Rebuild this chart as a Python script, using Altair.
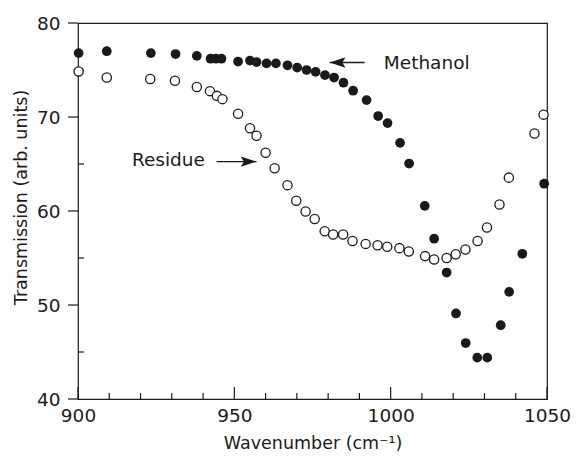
import altair as alt
import pandas as pd

# ---------------- data ----------------
wn_methanol = [900.2, 909.2, 923.3, 931.2, 938.0, 942.4, 944.1, 945.9, 951.2, 955.0,
               957.1, 960.3, 963.3, 967.0, 970.1, 973.1, 976.0, 979.0, 981.9, 984.9,
               988.0, 992.3, 996.0, 999.0, 1003.0, 1005.9, 1010.9, 1013.9, 1017.9, 1020.9,
               1024.0, 1027.7, 1030.9, 1035.2, 1037.9, 1042.1, 1049.1]
tr_methanol = [76.8, 77.0, 76.8, 76.7, 76.5, 76.2, 76.2, 76.2, 75.9, 76.0,
               75.85, 75.7, 75.7, 75.5, 75.25, 75.0, 74.8, 74.45, 74.2, 73.65,
               72.8, 71.8, 70.1, 69.35, 67.25, 65.05, 60.55, 57.05, 53.45, 49.1,
               45.95, 44.4, 44.4, 47.85, 51.4, 55.45, 62.9]

wn_residue = [900.2, 909.2, 923.1, 931.0, 938.0, 942.2, 944.4, 946.2, 951.2, 955.0,
              957.1, 960.0, 962.9, 967.0, 969.8, 972.8, 975.7, 978.9, 981.6, 984.8,
              987.8, 992.0, 995.8, 998.9, 1002.8, 1005.8, 1011.0, 1013.9, 1017.9, 1020.8,
              1023.9, 1027.8, 1030.8, 1034.8, 1037.8, 1046.0, 1048.9]
tr_residue = [74.85, 74.2, 74.05, 73.85, 73.2, 72.75, 72.25, 71.9, 70.35, 68.8,
              68.0, 66.2, 64.55, 62.75, 61.1, 59.95, 59.15, 57.85, 57.5, 57.5,
              56.8, 56.5, 56.35, 56.2, 56.05, 55.7, 55.2, 54.85, 55.0, 55.4,
              55.9, 56.8, 58.25, 60.7, 63.55, 68.25, 70.25]

x_major = [900, 950, 1000, 1050]
x_minor = [910, 920, 930, 940, 960, 970, 980, 990, 1010, 1020, 1030, 1040]
y_major = [40, 50, 60, 70, 80]
y_minor = [45, 55, 65, 75]

label_text = ["Methanol", "Residue"]
label_wn = [997.8, 940.6]
label_tr = [75.75, 65.45]
arrow_tail_wn = [991.7, 944.3]
arrow_head_wn = [980.5, 957.1]
arrow_tr = [75.8, 65.25]

# ---------------- style ----------------
FONT = "DejaVu Sans"
INK = "#1a1a1a"
FS = 18.5
TFS = 17.5
W, H = 469, 376

xs = alt.Scale(domain=[900, 1050], nice=False, zero=False)
ys = alt.Scale(domain=[40, 80], nice=False, zero=False)

df_m = pd.DataFrame({"wn": wn_methanol, "tr": tr_methanol})
df_r = pd.DataFrame({"wn": wn_residue, "tr": tr_residue})

x_axis = alt.Axis(values=x_major, format="d", ticks=False, domain=False, grid=False,
                  labelFlush=False, labelOverlap=False,
                  labelPadding=7, labelFont=FONT, labelFontSize=FS, labelColor=INK,
                  title="Wavenumber (cm⁻¹)", titleFont=FONT, titleFontSize=TFS,
                  titleFontWeight="normal", titleColor=INK, titlePadding=10)
y_axis = alt.Axis(values=y_major, format="d", ticks=False, domain=False, grid=False,
                  labelFlush=False, labelOverlap=False,
                  labelPadding=18, labelFont=FONT, labelFontSize=FS, labelColor=INK,
                  title="Transmission (arb. units)", titleFont=FONT, titleFontSize=TFS,
                  titleFontWeight="normal", titleColor=INK, titlePadding=6,
                  titleY=174)


def X(field):
    return alt.X(field, scale=xs, axis=x_axis)


def Y(field):
    return alt.Y(field, scale=ys, axis=y_axis)


residue = alt.Chart(df_r).mark_point(
    shape="circle", filled=True, fill="white", stroke=INK, strokeWidth=1.3,
    size=85, opacity=1
).encode(x=X("wn:Q"), y=Y("tr:Q"))

methanol = alt.Chart(df_m).mark_point(
    shape="circle", filled=True, color=INK, size=95, opacity=1
).encode(x=X("wn:Q"), y=Y("tr:Q"))

# ticks (inward on x, outward majors / inward minors on y)
df_xmaj = pd.DataFrame({"wn": x_major})
df_xmin = pd.DataFrame({"wn": x_minor})
df_ymaj = pd.DataFrame({"tr": y_major})
df_ymin = pd.DataFrame({"tr": y_minor})

xt_major = alt.Chart(df_xmaj).mark_rule(color=INK, strokeWidth=1.2).encode(
    x=X("wn:Q"), y=alt.value(H), y2=alt.value(H - 12))
xt_minor = alt.Chart(df_xmin).mark_rule(color=INK, strokeWidth=1.2).encode(
    x=X("wn:Q"), y=alt.value(H), y2=alt.value(H - 6))
yt_major = alt.Chart(df_ymaj).mark_rule(color=INK, strokeWidth=1.2).encode(
    y=Y("tr:Q"), x=alt.value(-10), x2=alt.value(0))
yt_minor = alt.Chart(df_ymin).mark_rule(color=INK, strokeWidth=1.2).encode(
    y=Y("tr:Q"), x=alt.value(0), x2=alt.value(6))

# annotations
df_ann = pd.DataFrame({"text": label_text, "wn": label_wn, "tr": label_tr,
                       "tail": arrow_tail_wn, "head": arrow_head_wn, "atr": arrow_tr})

txt_m = alt.Chart(df_ann.iloc[[0]]).mark_text(
    align="left", baseline="middle", font=FONT, fontSize=FS, color=INK
).encode(x=X("wn:Q"), y=Y("tr:Q"), text="text:N")
txt_r = alt.Chart(df_ann.iloc[[1]]).mark_text(
    align="right", baseline="middle", font=FONT, fontSize=FS, color=INK
).encode(x=X("wn:Q"), y=Y("tr:Q"), text="text:N")

shafts = alt.Chart(df_ann).mark_rule(color=INK, strokeWidth=1.4).encode(
    x=X("tail:Q"), x2="head:Q", y=Y("atr:Q"))

head_left = alt.Chart(df_ann.iloc[[0]]).mark_point(
    shape="M0,0L1,-0.33L0.8,0L1,0.33Z", filled=True, color=INK, size=1000, opacity=1
).encode(x=X("head:Q"), y=Y("atr:Q"))
head_right = alt.Chart(df_ann.iloc[[1]]).mark_point(
    shape="M0,0L-1,-0.33L-0.8,0L-1,0.33Z", filled=True, color=INK, size=1000, opacity=1
).encode(x=X("head:Q"), y=Y("atr:Q"))

chart = alt.layer(
    xt_major, xt_minor, yt_major, yt_minor,
    residue, methanol, shafts, head_left, head_right, txt_m, txt_r
).properties(
    width=W, height=H,
    autosize=alt.AutoSizeParams(type="none"),
    padding={"left": 78, "top": 23, "right": 29, "bottom": 61},
    background="white",
).configure_view(stroke=INK, strokeWidth=1.2)

chart.save("out.html", embed_options={"renderer": "svg", "actions": False})
